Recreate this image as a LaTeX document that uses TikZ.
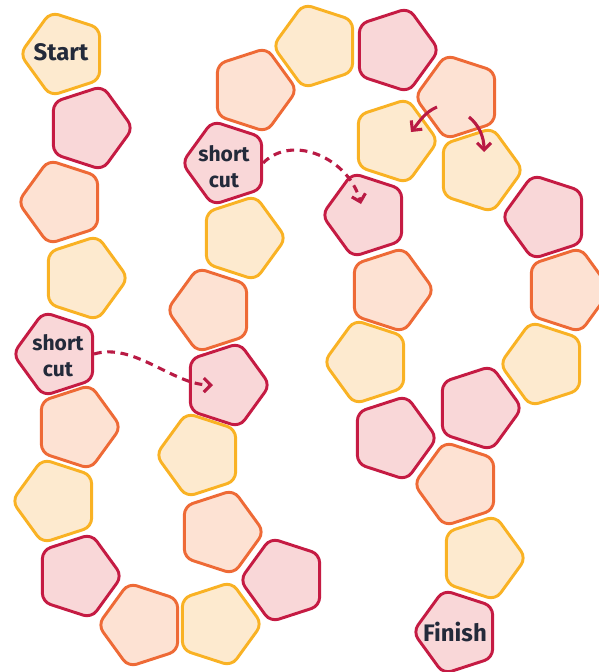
\documentclass[tikz,border=0pt]{standalone}
\usepackage{fontspec}
\setmainfont{Fira Sans}
\usetikzlibrary{shapes.geometric,arrows.meta}
\definecolor{ylwline}{HTML}{F9B224}
\definecolor{ylwfill}{HTML}{FDEACF}
\definecolor{orgline}{HTML}{EE6A36}
\definecolor{orgfill}{HTML}{FDE2D3}
\definecolor{redline}{HTML}{C51B43}
\definecolor{redfill}{HTML}{F9D7D8}
\definecolor{arrowred}{HTML}{B91A44}
\definecolor{ink}{HTML}{232A3A}

\begin{document}
\begin{tikzpicture}[x=0.025cm, y=-0.025cm,
	tile/.style={regular polygon, regular polygon sides=5, minimum size=2.2cm, inner sep=0pt, line width=2.1pt, rounded corners=6pt},
	ptR/.style={shape border rotate=-18}, ptL/.style={shape border rotate=18},
	ylw/.style={tile, draw=ylwline, fill=ylwfill},
	org/.style={tile, draw=orgline, fill=orgfill},
	red/.style={tile, draw=redline, fill=redfill},
	word/.style={font=\bfseries\fontsize{17}{19}\selectfont, text=ink, align=center, inner sep=0pt},
	jump/.style={draw=arrowred, line width=2.2pt, dash pattern=on 5.5pt off 4pt, -{Straight Barb[length=5pt,width=10pt]}},
	fork/.style={draw=arrowred, line width=2.2pt, -{Straight Barb[length=5pt,width=10pt]}}]
	\useasboundingbox (0,0) rectangle (599,672);
	% left column, going down
	\node [ylw, ptL] (1) at (64,54){};
	\node [red, ptR] (2) at (89,128){};
	\node [org, ptL] (3) at (62,202){};
	\node [ylw, ptR] (4) at (84,278){};
	\node [red, ptL] (5) at (57,354){};
	\node [org, ptR] (6) at (77,427){};
	\node [ylw, ptL] (7) at (56,501){};
	\node [red, ptR] (8) at (78,576){};
	\node [org, ptL] (9) at (142,625){};
	\node [ylw, ptR] (10) at (218,624){};
	% middle column, going up
	\node [red, ptL] (11) at (284,580){};
	\node [org, ptR] (12) at (220,532){};
	\node [ylw, ptL] (13) at (200,455){};
	\node [red, ptR] (14) at (226,385){};
	\node [org, ptL] (15) at (211,310){};
	\node [ylw, ptR] (16) at (242,238){};
	\node [red, ptL] (17) at (226,163){};
	\node [org, ptR] (18) at (253,90){};
	\node [ylw, ptL] (19) at (317,46){};
	\node [red, ptR] (20) at (395,50){};
	\node [org, ptL] (21) at (459,97){};
	% inner branch
	\node [ylw, ptR] (22) at (394,141){};
	\node [red, ptL] (23) at (366,215){};
	\node [org, ptR] (24) at (390,290){};
	\node [ylw, ptL] (25) at (368,362){};
	\node [red, ptR] (26) at (393,438){};
	% outer branch
	\node [ylw, ptR] (27) at (479,170){};
	\node [red, ptL] (28) at (546,217){};
	\node [org, ptR] (29) at (567,290){};
	\node [ylw, ptL] (30) at (544,364){};
	\node [red, ptR] (31) at (478,408){};
	% to the end
	\node [org, ptL] (32) at (458,484){};
	\node [ylw, ptR] (33) at (482,558){};
	\node [red, ptL] (34) at (457,632){};
	% texts
	\node [word] (start) at (61,52){Start};
	\node [word, font=\bfseries\fontsize{15}{18.5}\selectfont] (cut1) at (58,356){short\\cut};
	\node [word, font=\bfseries\fontsize{15}{18.5}\selectfont] (cut2) at (224,167){short\\cut};
	\node [word] (finish) at (455,632){Finish};
	% arrows
	\draw [jump] (5.east) .. controls +(40,-12) and +(-40,0) .. ([shift={(-13,0)}]14.center);
	\draw [jump] (17.east) .. controls +(30,-30) and +(-12,-45) .. ([shift={(-5,-11)}]23.center);
	\draw [fork] ([shift={(-22,10)}]21.center) .. controls +(-12,5) and +(8,-10) .. ([shift={(17,-9)}]22.center);
	\draw [fork] ([shift={(10,20)}]21.center) .. controls +(10,8) and +(0,-15) .. ([shift={(5,-18)}]27.center);
\end{tikzpicture}
\end{document}
